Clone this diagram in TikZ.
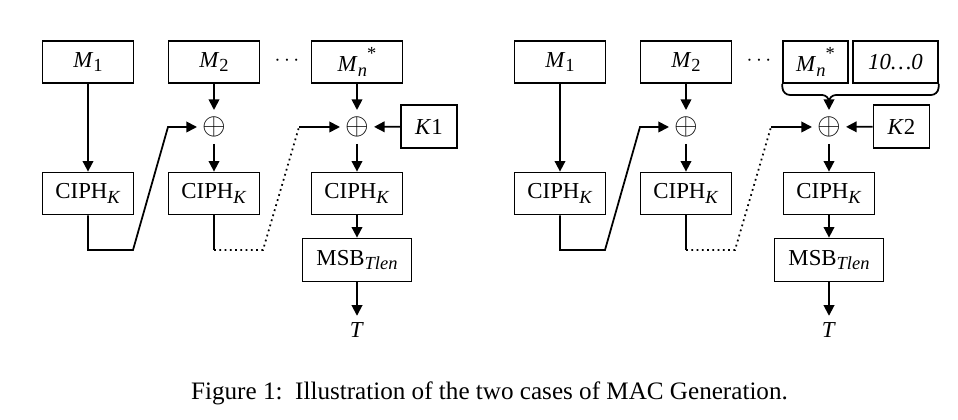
\documentclass[tikz,border=0pt]{standalone}
\usepackage{fontspec}
\setmainfont{Liberation Serif}
\usetikzlibrary{arrows.meta}
\newcommand{\lowtext}[1]{\raisebox{-0.45ex}{\fontsize{10.5}{12}\selectfont #1}}
\newcommand{\uptext}[1]{\raisebox{1.15ex}{\fontsize{10.5}{12}\selectfont #1}}

\begin{document}
\begin{tikzpicture}[
            > = {Triangle[length=6pt,width=6pt]}, % arrow head style
            line width = 1pt, % line style
            font = \fontsize{13}{15}\selectfont,
            block/.style = {draw=black, minimum width=1.82cm, minimum height=0.84cm, inner sep=0pt},
            xor/.style = {circle, inner sep=0pt, outer sep=0.03cm, font=\fontsize{18}{18}\selectfont}
        ]
\useasboundingbox (0,0) rectangle (19.16,8.4);

% first case: last block is complete
\node[block] (M1) at (1.76,7.16) {\textit{M}\lowtext{1}};
\node[block] (M2) at (4.28,7.16) {\textit{M}\lowtext{2}};
\node[font=\fontsize{12}{12}\selectfont] (dots) at (5.74,7.18) {$\cdots$};
\node[block] (Mn) at (7.14,7.16) {\textit{M}\lowtext{\textit{n}}\uptext{*}};
\node[xor] (X1) at (4.28,5.86) {$\oplus$};
\node[xor] (X2) at (7.14,5.86) {$\oplus$};
\node[block, minimum width=1.12cm, minimum height=0.86cm] (K1) at (8.58,5.87) {\textit{K}1};
\node[block] (C1) at (1.76,4.53) {CIPH\lowtext{\textit{K}}};
\node[block] (C2) at (4.28,4.53) {CIPH\lowtext{\textit{K}}};
\node[block] (C3) at (7.14,4.53) {CIPH\lowtext{\textit{K}}};
\node[block, minimum width=2.18cm, minimum height=0.86cm] (MSB) at (7.14,3.20) {MSB\lowtext{\textit{Tlen}}};
\node (T) at (7.14,1.80) {\textit{T}};

\coordinate (a1) at (1.76,3.40);
\coordinate (a2) at (2.66,3.40);
\coordinate (a3) at (3.36,5.86);
\coordinate (b1) at (4.28,3.40);
\coordinate (b2) at (5.26,3.40);
\coordinate (b3) at (5.98,5.86);

\path [->] (M1) edge (C1)
           (M2) edge (X1)
           (X1) edge (C2)
           (Mn) edge (X2)
           (K1) edge (X2)
           (X2) edge (C3)
           (C3) edge (MSB)
           (MSB) edge (T);
\draw [->] (C1) -- (a1) -- (a2) -- (a3) -- (X1);
\draw (C2) -- (b1);
\draw [dotted] (b1) -- (b2) -- (b3);
\draw [->] (b3) -- (X2);

% second case: last block is padded
\begin{scope}[xshift=9.44cm]
\node[block] (M1p) at (1.76,7.16) {\textit{M}\lowtext{1}};
\node[block] (M2p) at (4.28,7.16) {\textit{M}\lowtext{2}};
\node[font=\fontsize{12}{12}\selectfont] (dotsp) at (5.74,7.18) {$\cdots$};
\node[block, minimum width=1.30cm] (Mnp) at (6.87,7.16) {\textit{M}\lowtext{\textit{n}}\uptext{*}};
\node[block, minimum width=1.70cm] (pad) at (8.47,7.16) {\textit{10\dots0}};
\node[xor] (X1p) at (4.28,5.86) {$\oplus$};
\node[xor] (X2p) at (7.14,5.86) {$\oplus$};
\node[block, minimum width=1.12cm, minimum height=0.86cm] (K2) at (8.59,5.87) {\textit{K}2};
\node[block] (C1p) at (1.76,4.53) {CIPH\lowtext{\textit{K}}};
\node[block] (C2p) at (4.28,4.53) {CIPH\lowtext{\textit{K}}};
\node[block] (C3p) at (7.14,4.53) {CIPH\lowtext{\textit{K}}};
\node[block, minimum width=2.18cm, minimum height=0.86cm] (MSBp) at (7.14,3.20) {MSB\lowtext{\textit{Tlen}}};
\node (Tp) at (7.14,1.80) {\textit{T}};

\coordinate (c1) at (1.76,3.40);
\coordinate (c2) at (2.66,3.40);
\coordinate (c3) at (3.36,5.86);
\coordinate (d1) at (4.28,3.40);
\coordinate (d2) at (5.26,3.40);
\coordinate (d3) at (5.98,5.86);
\coordinate (tip) at (7.14,6.36);

% brace under the last block and its padding
\draw [rounded corners=0.14cm] (Mnp.south west) -- (6.22,6.50) -- (7.14,6.50) -- (tip);
\draw [rounded corners=0.14cm] (pad.south east) -- (9.32,6.50) -- (7.14,6.50) -- (tip);

\path [->] (M1p) edge (C1p)
           (M2p) edge (X1p)
           (X1p) edge (C2p)
           (tip) edge (X2p)
           (K2) edge (X2p)
           (X2p) edge (C3p)
           (C3p) edge (MSBp)
           (MSBp) edge (Tp);
\draw [->] (C1p) -- (c1) -- (c2) -- (c3) -- (X1p);
\draw (C2p) -- (d1);
\draw [dotted] (d1) -- (d2) -- (d3);
\draw [->] (d3) -- (X2p);
\end{scope}

\node[font=\fontsize{14.3}{16}\selectfont] (caption) at (9.79,0.54) {Figure 1:\ \ Illustration of the two cases of MAC Generation.};
\end{tikzpicture}
\end{document}
